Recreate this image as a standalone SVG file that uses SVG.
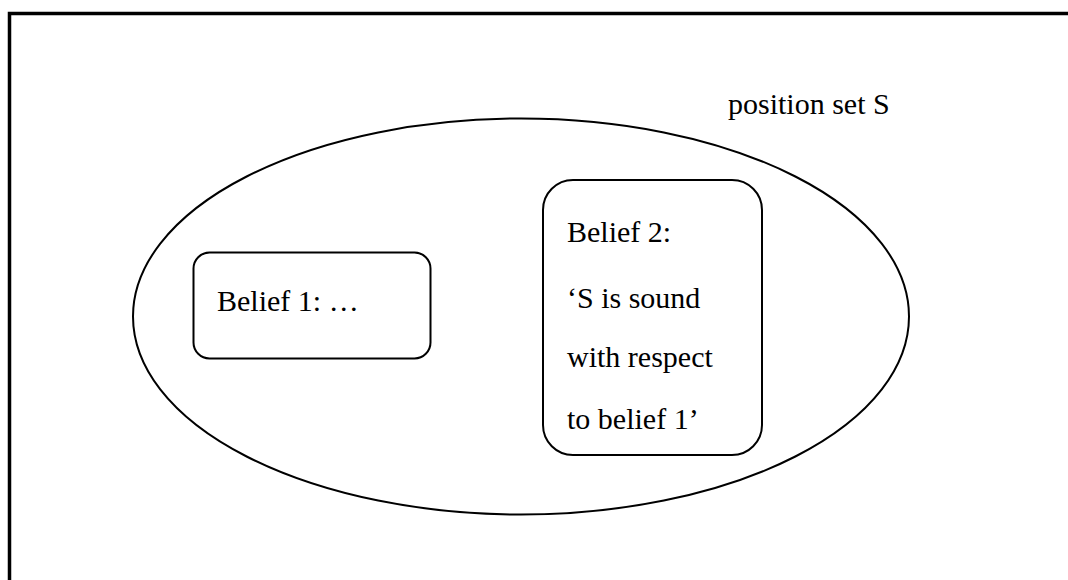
<svg xmlns="http://www.w3.org/2000/svg" width="1068" height="580" viewBox="0 0 1068 580">
<style>
.t{font-family:"Liberation Serif","Times New Roman",serif;font-size:30px;fill:#000}
.s{fill:none;stroke:#000;stroke-width:2}
</style>
<rect width="1068" height="580" fill="#fff"/>
<g id="frame"><path d="M9.5,590 V13.5 H1075" fill="none" stroke="#000" stroke-width="3.5"/></g>
<g id="position-set">
<ellipse class="s" cx="521" cy="316.5" rx="388" ry="198"/>
<text class="t" x="728" y="114">position set S</text>
</g>
<g id="belief1">
<rect class="s" x="193.5" y="252.5" width="237" height="106" rx="16"/>
<text class="t" x="217" y="311">Belief 1: …</text>
</g>
<g id="belief2">
<rect class="s" x="543" y="180" width="219" height="275" rx="30"/>
<text class="t" x="567" y="242">Belief 2:</text>
<text class="t" x="567" y="308">‘S is sound</text>
<text class="t" x="567" y="367">with respect</text>
<text class="t" x="567" y="429">to belief 1’</text>
</g>
<g id="connectors"/>
</svg>
